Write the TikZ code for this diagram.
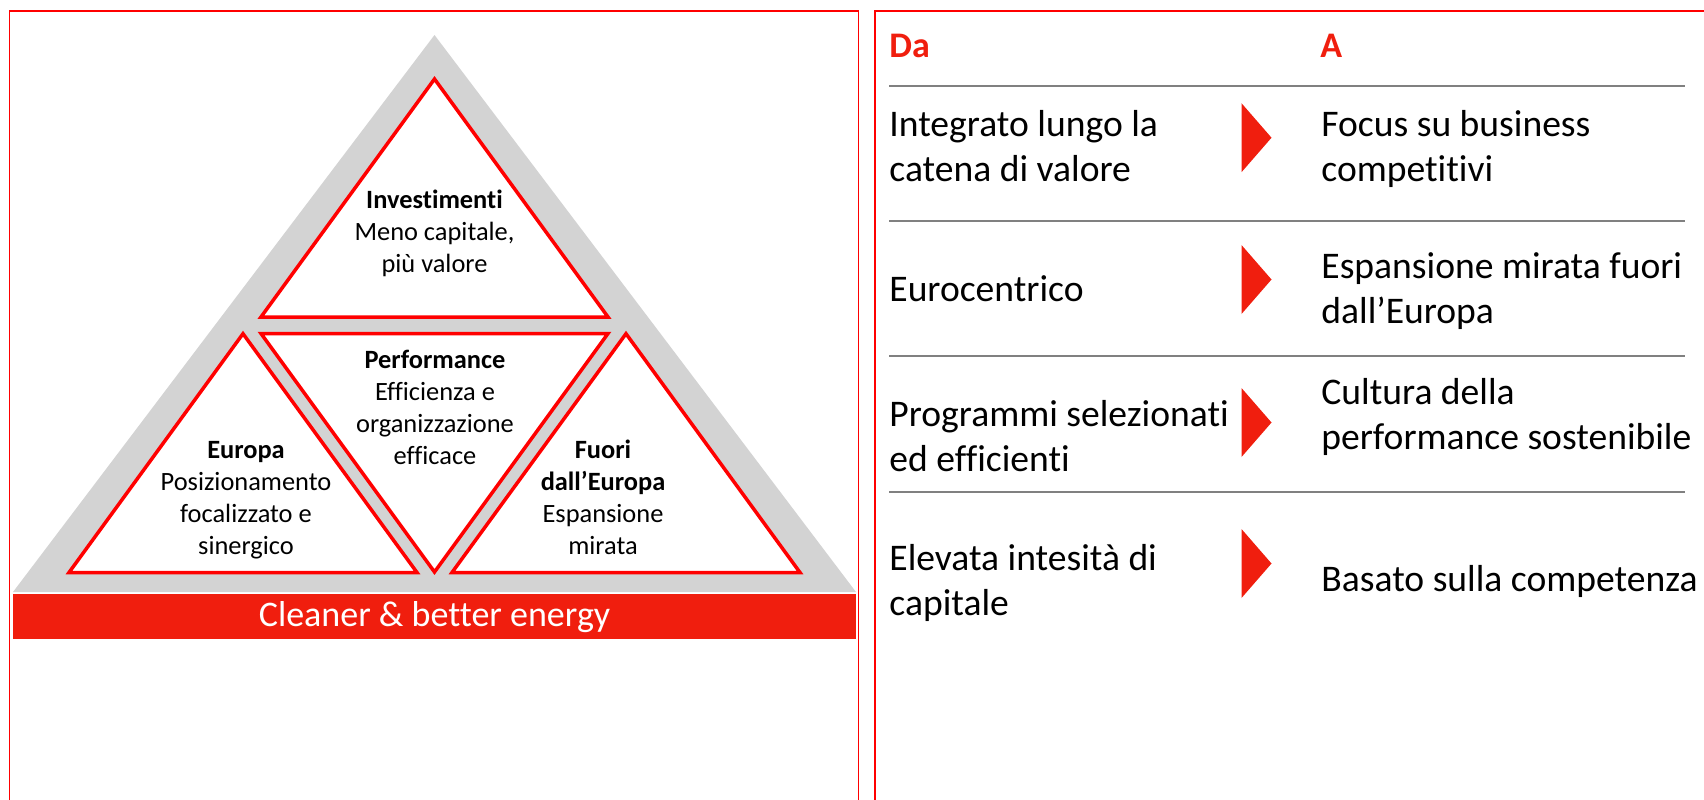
\documentclass[tikz,border=0pt]{standalone}
\usepackage{fontspec}
\setmainfont{Carlito}[Ligatures=NoCommon]
\definecolor{enelred}{RGB}{240,30,14}
\definecolor{linered}{RGB}{255,0,0}
\definecolor{trigray}{RGB}{211,211,211}
\definecolor{rulegray}{RGB}{128,128,128}
\tikzset{
  panel/.style={draw=linered, line width=0.9pt},
  redtri/.style={draw=linered, fill=white, line width=1.75pt, line join=miter},
  rulesep/.style={draw=rulegray, line width=1pt},
  chevron/.style={fill=enelred},
  % anchor=base of a multi-line node is the baseline of its LAST line
  tritext/.style={align=center, inner sep=0pt, anchor=base, font=\fontsize{13.2}{16}\selectfont},
  rowtext/.style={align=left, inner sep=0pt, anchor=base west, font=\fontsize{18.8}{22.5}\selectfont},
  headtext/.style={inner sep=0pt, anchor=base west, text=enelred, font=\fontsize{18}{21}\selectfont\bfseries},
  bartext/.style={inner sep=0pt, anchor=base, text=white, font=\fontsize{18}{22}\selectfont}
}
\begin{document}
\begin{tikzpicture}[x=0.5pt,y=-0.5pt]
\useasboundingbox (0,0) rectangle (1704,799);
\clip (0,0) rectangle (1704,799);
\fill[white] (0,0) rectangle (1704,799);
% panels
\draw[panel] (9.5,11) rectangle (858.5,830);
\draw[panel] (875,11) rectangle (1730,830);
% pyramid
\fill[trigray] (434.5,35) -- (856,592) -- (13,592) -- cycle;
\draw[redtri] (434.5,79) -- (608,317) -- (261,317) -- cycle;
\draw[redtri] (261,333.5) -- (608,333.5) -- (434.5,572) -- cycle;
\draw[redtri] (243,333.7) -- (417,572.5) -- (69,572.5) -- cycle;
\draw[redtri] (626,333.7) -- (800,572.5) -- (452,572.5) -- cycle;
% base bar
\fill[enelred] (13,594) rectangle (856,639);
\node[bartext] (bar) at (434.5,626) {Cleaner \& better energy};
% triangle texts (positions = baseline of last line)
\node[tritext] (inv) at (434.5,272.5) {\textbf{Investimenti}\\Meno capitale,\\più valore};
\node[tritext] (perf) at (435,464.5) {\textbf{Performance}\\Efficienza e\\organizzazione\\efficace};
\node[tritext] (eur) at (246,554) {\textbf{Europa}\\Posizionamento\\focalizzato e\\sinergico};
\node[tritext] (fuori) at (603,554) {\textbf{Fuori}\\\textbf{dall’Europa}\\Espansione\\mirata};
% right panel
\node[headtext] (da) at (889,57) {Da};
\node[headtext] (a) at (1320,57) {A};
\foreach \yy in {86,221,356,491.5} \draw[rulesep] (889,\yy) -- (1685,\yy);
\foreach \yy in {137.7,279.5,422.5,563.5}
  \fill[chevron] (1241.5,\yy-34.5) -- (1271.5,\yy) -- (1241.5,\yy+34.5) -- cycle;
\node[rowtext] (l1) at (889,181.7) {Integrato lungo la\\catena di valore};
\node[rowtext] (r1) at (1321,181.7) {Focus su business\\competitivi};
\node[rowtext] (l2) at (889,301.7) {Eurocentrico};
\node[rowtext] (r2) at (1321,323.3) {Espansione mirata fuori\\dall’Europa};
\node[rowtext] (l3) at (889,471.7) {Programmi selezionati\\ed efficienti};
\node[rowtext] (r3) at (1321,449) {Cultura della\\performance sostenibile};
\node[rowtext] (l4) at (889,615) {Elevata intesità di\\capitale};
\node[rowtext] (r4) at (1321,591.7) {Basato sulla competenza};
\end{tikzpicture}
\end{document}
